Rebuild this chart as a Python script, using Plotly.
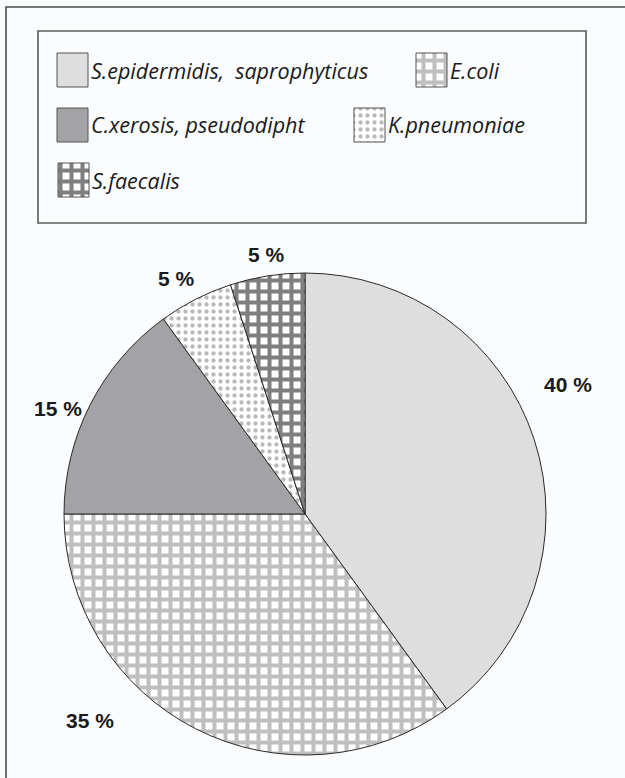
import plotly.graph_objects as go

W, H = 625, 778

# ---- data ----
species = ["S.epidermidis,  saprophyticus", "E.coli", "C.xerosis, pseudodipht",
           "K.pneumoniae", "S.faecalis"]
percent = [40, 35, 15, 5, 5]
label_text = ["40 %", "35 %", "15 %", "5 %", "5 %"]

# ---- styles ----
fill_colors = ["#dedede", "#ffffff", "#a3a3a5", "#ffffff", "#ffffff"]
pat_shapes = ["", "+", "", ".", "+"]
pat_fg = ["#dedede", "#808080", "#a3a3a5", "#767676", "#000000"]
pat_size = [8, 11, 8, 7, 11]
pat_solid = [0.3, 0.6, 0.3, 0.3, 0.6]

BG = "#fbfcfe"

def px(x):
    return x / W

def py(y):
    return 1 - y / H

cx, cy, r = 305, 514, 241

fig = go.Figure()
fig.add_trace(go.Pie(
    labels=species,
    values=percent,
    sort=False,
    direction="clockwise",
    rotation=0,
    textinfo="none",
    hoverinfo="label+percent",
    showlegend=False,
    domain=dict(x=[px(cx - r), px(cx + r)], y=[py(cy + r), py(cy - r)]),
    marker=dict(
        colors=fill_colors,
        line=dict(color="#2a2a2a", width=1),
        pattern=dict(shape=pat_shapes, fgcolor=pat_fg, bgcolor=fill_colors,
                     size=pat_size, solidity=pat_solid, fillmode="overlay"),
    ),
))

shapes = []
# outer frame (extends beyond the visible page on right/bottom)
shapes.append(dict(type="rect", xref="paper", yref="paper",
                   x0=px(6), x1=px(640), y0=py(800), y1=py(7),
                   line=dict(color="#4a4a4a", width=1.6), layer="above"))
# legend box
shapes.append(dict(type="rect", xref="paper", yref="paper",
                   x0=px(38), x1=px(586), y0=py(223), y1=py(31),
                   line=dict(color="#5a5a5a", width=1.6), layer="above"))

annotations = []
# legend entries: (index, swatch left x, row centre y)
legend_pos = [
    (0, 57, 70),
    (1, 416, 70),
    (2, 57, 125),
    (3, 354, 125),
    (4, 58, 180),
]
sw_w, sw_h = 31, 34
for idx, x0, yc in legend_pos:
    y0s = yc - sw_h / 2
    xs = [x0, x0 + sw_w, x0 + sw_w, x0, x0]
    ys = [y0s, y0s, y0s + sw_h, y0s + sw_h, y0s]
    fp = dict(shape=pat_shapes[idx], fgcolor=pat_fg[idx], bgcolor=fill_colors[idx],
              size=pat_size[idx], solidity=pat_solid[idx], fillmode="overlay")
    fig.add_trace(go.Scatter(
        x=xs, y=ys, mode="lines", fill="toself",
        fillcolor=fill_colors[idx], fillpattern=fp,
        line=dict(color="#555555", width=1),
        hoverinfo="skip", showlegend=False,
        xaxis="x", yaxis="y",
    ))
    annotations.append(dict(x=px(x0 + sw_w + 1), y=py(yc), xref="paper", yref="paper",
                            xanchor="left", yanchor="middle", showarrow=False,
                            text="<i>" + species[idx].replace("  ", "&nbsp; ") + "</i>",
                            font=dict(family="Open Sans", size=21.5, color="#1a1a1a")))

# percent labels
label_pos = [(568, 385), (90, 720), (58, 408), (176, 278), (266, 254)]
for t, (lx, ly) in zip(label_text, label_pos):
    annotations.append(dict(x=px(lx), y=py(ly), xref="paper", yref="paper",
                            xanchor="center", yanchor="middle", showarrow=False,
                            text="<b>" + t + "</b>",
                            font=dict(family="Liberation Sans", size=21, color="#1a1a1a")))

fig.update_layout(
    width=W, height=H,
    margin=dict(l=0, r=0, t=0, b=0),
    paper_bgcolor=BG, plot_bgcolor="rgba(0,0,0,0)",
    xaxis=dict(range=[0, W], visible=False, fixedrange=True, domain=[0, 1]),
    yaxis=dict(range=[H, 0], visible=False, fixedrange=True, domain=[0, 1]),
    shapes=shapes,
    annotations=annotations,
)

fig.write_html("out.html")
